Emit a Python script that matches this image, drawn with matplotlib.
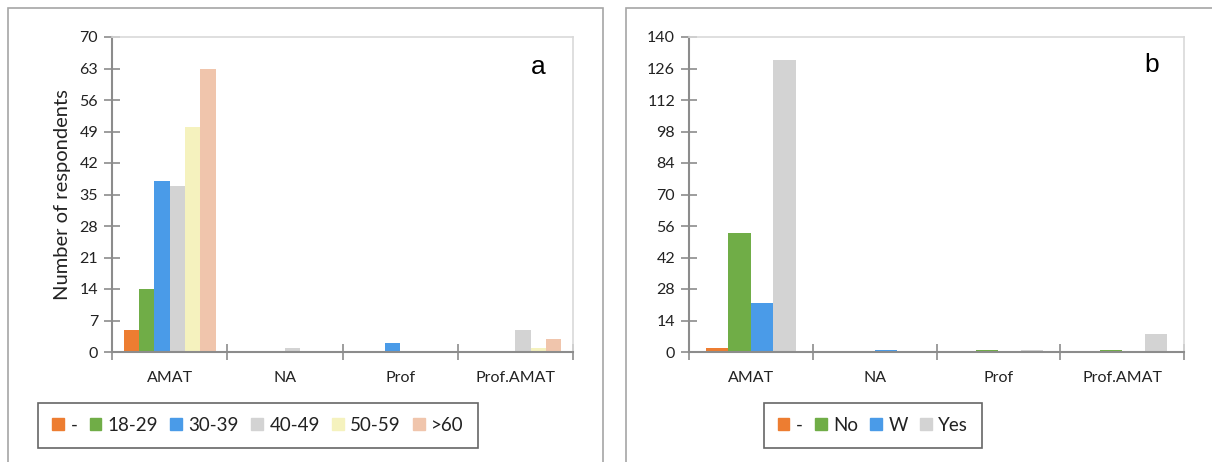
import numpy as np
import matplotlib
matplotlib.use('Agg')
import matplotlib.pyplot as plt
from matplotlib.patches import Rectangle, Patch

plt.rcParams['font.family'] = ['Lato', 'DejaVu Sans']

categories = ['AMAT', 'NA', 'Prof', 'Prof.AMAT']

# panel a: respondents by age group
age_labels = ['-', '18-29', '30-39', '40-49', '50-59', '>60']
age_dash = [5, 0, 0, 0]
age_18_29 = [14, 0, 0, 0]
age_30_39 = [38, 0, 2, 0]
age_40_49 = [37, 1, 0, 5]
age_50_59 = [50, 0, 0, 1]
age_60 = [63, 0, 0, 3]

# panel b: respondents by answer
ans_labels = ['-', 'No', 'W', 'Yes']
ans_dash = [2, 0, 0, 0]
ans_no = [53, 0, 1, 1]
ans_w = [22, 1, 0, 0]
ans_yes = [130, 0, 1, 8]

c_orange = '#ED7D31'
c_green = '#70AD47'
c_blue = '#4A9BE8'
c_gray = '#D3D3D3'
c_yellow = '#F5F2BE'
c_peach = '#F0C5AC'

W, H = 1212, 462
fig = plt.figure(figsize=(W / 100, H / 100), dpi=100)


def px_axes(x0, x1, y_top, y_bot):
    return fig.add_axes([x0 / W, 1 - y_bot / H, (x1 - x0) / W, (y_bot - y_top) / H])


def draw_panel(ax, series, labels, colors, ymax, step, letter, letter_pos):
    n = len(series)
    width = 1.0 / (n + 1.5)
    x = np.arange(len(categories))
    for i, (vals, col) in enumerate(zip(series, colors)):
        ax.bar(x + (i - (n - 1) / 2) * width, vals, width, color=col,
               linewidth=0, label=labels[i], zorder=2)
    ax.set_xlim(-0.5, len(categories) - 0.5)
    ax.set_ylim(0, ymax)
    ax.set_yticks(np.arange(0, ymax + 1, step))
    ax.set_xticks(x)
    ax.set_xticklabels(categories)
    ax.set_xticks(np.arange(-0.5, len(categories)), minor=True)
    for s in ax.spines.values():
        s.set_color('#D9D9D9')
        s.set_linewidth(1.2)
    for s in ('left', 'bottom'):
        ax.spines[s].set_color('#8C8C8C')
        ax.spines[s].set_linewidth(1.5)
    ax.tick_params(axis='y', direction='inout', length=12, width=1.2,
                   color='#8C8C8C', labelsize=11.5, labelcolor='#222222', pad=4)
    ax.tick_params(axis='x', which='major', length=0, labelsize=11.5,
                   labelcolor='#222222', pad=14)
    ax.tick_params(axis='x', which='minor', direction='inout', length=12,
                   width=1.2, color='#8C8C8C')
    ax.text(letter_pos[0], letter_pos[1], letter, transform=ax.transAxes, fontsize=19,
            family='Liberation Sans', ha='center', va='center')


ax_a = px_axes(112, 573, 37, 352)
draw_panel(ax_a, [age_dash, age_18_29, age_30_39, age_40_49, age_50_59, age_60],
           age_labels, [c_orange, c_green, c_blue, c_gray, c_yellow, c_peach],
           70, 7, 'a', (0.924, 0.905))
ax_a.set_ylabel('Number of respondents', fontsize=14.5, color='#222222')
ax_a.yaxis.set_label_coords(-0.088, 0.5)

ax_b = px_axes(689, 1184, 37, 352)
draw_panel(ax_b, [ans_dash, ans_no, ans_w, ans_yes], ans_labels,
           [c_orange, c_green, c_blue, c_gray],
           140, 14, 'b', (0.935, 0.911))

# outer chart borders
fig.patches.append(Rectangle((8 / W, -0.1), 595 / W, 1.1 - 8 / H, transform=fig.transFigure,
                             fill=False, edgecolor='#A6A6A6', linewidth=1.2))
fig.patches.append(Rectangle((626 / W, -0.1), 0.6, 1.1 - 8 / H, transform=fig.transFigure,
                             fill=False, edgecolor='#A6A6A6', linewidth=1.2))

legend_kw = dict(ncol=6, fontsize=13.5, frameon=True, fancybox=False,
                 handlelength=0.62, handleheight=0.62, handletextpad=0.35,
                 columnspacing=0.65, borderpad=0.75, borderaxespad=0, loc='center')

h_a = [Patch(color=c) for c in [c_orange, c_green, c_blue, c_gray, c_yellow, c_peach]]
leg_a = fig.legend(h_a, age_labels, bbox_to_anchor=(258 / W, 1 - 425.5 / H), **legend_kw)
h_b = [Patch(color=c) for c in [c_orange, c_green, c_blue, c_gray]]
leg_b = fig.legend(h_b, ans_labels, bbox_to_anchor=(873 / W, 1 - 425.5 / H), **legend_kw)
for leg in (leg_a, leg_b):
    leg.get_frame().set_edgecolor('#404040')
    leg.get_frame().set_linewidth(1.2)
    for t in leg.get_texts():
        t.set_color('#222222')

fig.savefig('out.png', dpi=100)
